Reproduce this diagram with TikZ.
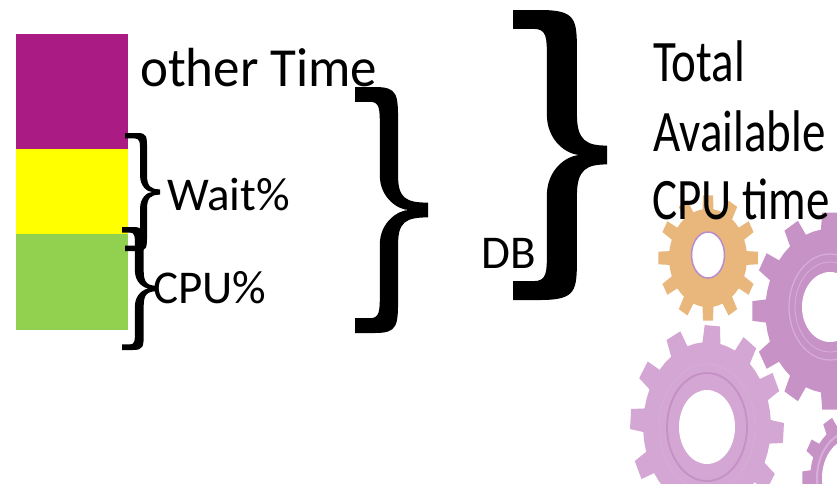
\documentclass[tikz,border=0pt]{standalone}
\usepackage{fontspec}
\setmainfont{Carlito}

% curly brace drawn as a filled outline inside a unit box
% #1 left, #2 top, #3 width, #4 height, #5 stem left, #6 stem right,
% #7 inner point of the tip, #8 thickness of the ends
\newcommand\curlybrace[8]{%
  \begin{scope}[shift={(#1,#2)},xscale=#3,yscale=#4]
    \fill (0,0) -- ({0.8*#5},0) .. controls (#6,0) and (#6,{0.5*#8}) .. (#6,0.15)
      -- (#6,0.36) .. controls (#6,0.45) and ({#6+0.1},{0.5-0.5*#8}) .. (1,{0.5-0.5*#8})
      -- (1,{0.5+0.5*#8}) .. controls ({#6+0.1},{0.5+0.5*#8}) and (#6,0.55) .. (#6,0.64)
      -- (#6,0.85) .. controls (#6,{1-0.5*#8}) and (#6,1) .. ({0.8*#5},1)
      -- (0,1) -- (0,{1-#8}) -- ({0.6*#5},{1-#8})
      .. controls (#5,{1-#8}) and (#5,{1-#8-0.03}) .. (#5,0.84)
      -- (#5,0.64) .. controls (#5,0.55) and ({#7-0.15},0.5) .. (#7,0.5)
      .. controls ({#7-0.15},0.5) and (#5,0.45) .. (#5,0.36)
      -- (#5,0.16) .. controls (#5,{#8+0.03}) and (#5,#8) .. ({0.6*#5},#8)
      -- (0,#8) -- cycle;
  \end{scope}}

% gear outline: #1 cx, #2 cy, #3 rx, #4 ry, #5 teeth, #6 root radius, #7 phase, #8 colour
\newcommand\gearwheel[8]{%
  \begin{scope}[shift={(#1,#2)},xscale=#3,yscale=#4]
    \fill[#8] ({#7+180/#5}:#6)
      \foreach \k in {1,...,#5}{
        -- ({#7+\k*360/#5-0.27*360/#5}:#6) -- ({#7+\k*360/#5-0.19*360/#5}:1)
        -- ({#7+\k*360/#5+0.19*360/#5}:1) -- ({#7+\k*360/#5+0.27*360/#5}:#6)
        -- ({#7+\k*360/#5+0.5*360/#5}:#6)}
      -- cycle;
  \end{scope}}

\definecolor{barother}{HTML}{AB1B84}
\definecolor{barwait}{HTML}{FFFF00}
\definecolor{barcpu}{HTML}{92D050}
\definecolor{gearorange}{HTML}{E9B77B}
\definecolor{gearlilac}{HTML}{D4A6D3}
\definecolor{gearpurple}{HTML}{C793C6}
\definecolor{ringdark}{HTML}{C590C5}
\definecolor{ringlight}{HTML}{D7AED7}
\definecolor{holeedge}{HTML}{B98CCB}

\tikzset{
  lbl/.style={inner sep=0pt, anchor=base west, font=\fontsize{47}{50}\selectfont},
  biglbl/.style={inner sep=0pt, anchor=base west, font=\fontsize{53}{56}\selectfont},
}

\begin{document}
\begin{tikzpicture}[x=1pt,y=-1pt]
  \useasboundingbox[fill=white] (0,0) rectangle (837,483);

  % stacked time bar
  \fill[barother] (16,34) rectangle (128,149);
  \fill[barwait]  (16,149) rectangle (128,234);
  \fill[barcpu]   (16,234) rectangle (128,330);

  % gears
  \gearwheel{830}{311}{78}{99}{12}{0.83}{0}{gearpurple}
  \draw[ringlight, line width=1.2pt] (830,307) ellipse [x radius=41, y radius=53];
  \draw[ringlight, line width=0.8pt] (830,307) ellipse [x radius=35, y radius=45];
  \fill[white] (830,307) ellipse [x radius=28, y radius=35];

  \gearwheel{853}{478}{51}{66}{12}{0.84}{0}{gearpurple}
  \draw[ringlight, line width=2pt] (853,478) ellipse [x radius=36, y radius=47];
  \fill[white] (853,478) ellipse [x radius=31, y radius=40];

  \gearwheel{707}{426}{77}{101}{12}{0.83}{4}{gearlilac}
  \draw[ringlight, line width=0.8pt] (707,427) ellipse [x radius=48, y radius=63];
  \draw[ringdark, line width=1.8pt] (707,427) ellipse [x radius=40, y radius=54];
  \fill[white] (707,427) ellipse [x radius=28, y radius=37];

  \gearwheel{708}{258}{50}{63}{12}{0.78}{0}{gearorange}
  \filldraw[fill=white, draw=holeedge, line width=1.5pt] (708,255) ellipse [x radius=16.5, y radius=23];

  % braces
  \curlybrace{125}{133}{35}{118}{0.43}{0.63}{0.78}{0.045}
  \curlybrace{122}{227}{35}{123}{0.37}{0.62}{0.78}{0.045}
  \curlybrace{355}{87}{73}{246}{0.34}{0.59}{0.74}{0.06}
  \curlybrace{513}{10}{94}{290}{0.36}{0.68}{0.72}{0.065}

  % labels
  \node[biglbl] (other) at (140,86) {\scalebox{1}[1.04]{other Time}};
  \node[lbl] (wait) at (167,210) {Wait\%};
  \node[lbl] (cpu) at (153,303) {CPU\%};
  \node[lbl] (db) at (481,268) {DB};
  \node[lbl] (total) at (653,81) {\scalebox{1}[1.25]{Total}};
  \node[lbl] (avail) at (653,151) {\scalebox{1}[1.25]{Available}};
  \node[lbl] (cputime) at (652,219) {\scalebox{1}[1.25]{CPU time}};
\end{tikzpicture}
\end{document}
